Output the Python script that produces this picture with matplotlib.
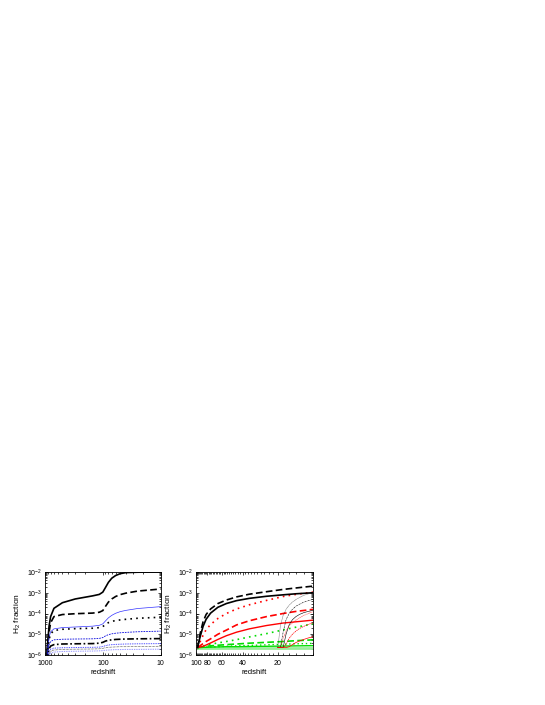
import numpy as np
import matplotlib
matplotlib.use('Agg')
from matplotlib import pyplot as plt
from matplotlib.ticker import FixedLocator, NullFormatter, LogLocator

plt.rcParams['font.family'] = ['Liberation Sans', 'DejaVu Sans']
plt.rcParams['mathtext.fontset'] = 'custom'
plt.rcParams['mathtext.rm'] = 'Liberation Sans'

# ---- left panel: z grid and log10(H2 fraction) for each curve
z_left = [950, 900, 850, 800, 700, 500, 300, 150, 115, 100, 90, 80, 70, 60, 50, 40, 25, 10]
L_black_solid = [-6.3, -5.4, -4.6, -4.15, -3.75, -3.48, -3.3, -3.15, -3.08, -2.97, -2.75, -2.5, -2.3, -2.17, -2.08, -2.03, -2.01, -2.0]
L_black_dash = [-6.3, -5.6, -4.9, -4.45, -4.15, -4.05, -4.01, -3.98, -3.94, -3.86, -3.66, -3.45, -3.3, -3.18, -3.09, -3.02, -2.92, -2.82]
L_blue_solid = [-6.3, -5.7, -5.15, -4.88, -4.74, -4.68, -4.65, -4.61, -4.57, -4.5, -4.36, -4.21, -4.09, -3.99, -3.91, -3.85, -3.76, -3.67]
L_black_dot = [-6.3, -5.8, -5.25, -4.98, -4.82, -4.76, -4.73, -4.71, -4.68, -4.63, -4.53, -4.44, -4.38, -4.34, -4.31, -4.28, -4.23, -4.18]
L_blue_dash = [-6.3, -5.9, -5.5, -5.35, -5.27, -5.24, -5.23, -5.22, -5.2, -5.16, -5.08, -5.02, -4.98, -4.95, -4.93, -4.91, -4.88, -4.85]
L_black_dashdot = [-6.3, -6.0, -5.7, -5.57, -5.5, -5.47, -5.46, -5.45, -5.43, -5.39, -5.33, -5.29, -5.27, -5.25, -5.24, -5.23, -5.22, -5.21]
L_blue_dot = [-6.3, -6.1, -5.85, -5.73, -5.67, -5.65, -5.64, -5.63, -5.62, -5.59, -5.55, -5.52, -5.5, -5.49, -5.48, -5.47, -5.46, -5.45]
L_black_thindot = [-6.3, -6.15, -5.95, -5.82, -5.76, -5.73, -5.72, -5.71, -5.7, -5.68, -5.65, -5.63, -5.62, -5.61, -5.6, -5.6, -5.59, -5.58]
L_lblue_dot = [-6.3, -6.2, -6.05, -5.92, -5.86, -5.83, -5.82, -5.81, -5.8, -5.79, -5.77, -5.76, -5.75, -5.74, -5.74, -5.73, -5.73, -5.72]

# ---- right panel
z_right = [97, 92, 87, 82, 75, 65, 55, 45, 35, 25, 18, 14, 10]
R_black_solid = [-5.64, -5.1, -4.62, -4.28, -3.98, -3.7, -3.52, -3.38, -3.27, -3.17, -3.1, -3.05, -3.0]
R_black_dash = [-5.64, -4.95, -4.4, -4.05, -3.78, -3.52, -3.35, -3.2, -3.07, -2.95, -2.84, -2.77, -2.68]
R_red_dot = [-5.64, -5.35, -5.05, -4.78, -4.53, -4.24, -4.0, -3.78, -3.58, -3.37, -3.18, -3.08, -2.97]
R_red_dash = [-5.64, -5.55, -5.45, -5.35, -5.22, -5.0, -4.8, -4.55, -4.35, -4.15, -4.0, -3.9, -3.8]
R_red_solid = [-5.64, -5.62, -5.58, -5.52, -5.42, -5.25, -5.07, -4.9, -4.74, -4.58, -4.46, -4.4, -4.32]
R_green_dot = [-5.64, -5.61, -5.57, -5.53, -5.48, -5.42, -5.35, -5.26, -5.13, -4.97, -4.79, -4.66, -4.5]
R_green_dash = [-5.64, -5.62, -5.6, -5.58, -5.56, -5.53, -5.5, -5.47, -5.43, -5.39, -5.35, -5.31, -5.27]
R_green_solid = [-5.64, -5.64, -5.63, -5.63, -5.62, -5.61, -5.6, -5.6, -5.59, -5.58, -5.57, -5.56, -5.55]
R_green_dot2 = [-5.64, -5.64, -5.63, -5.62, -5.61, -5.6, -5.58, -5.56, -5.54, -5.51, -5.48, -5.46, -5.44]
R_lgreen = [-5.68, -5.68, -5.68, -5.68, -5.68, -5.68, -5.68, -5.68, -5.68, -5.68, -5.68, -5.68, -5.68]

# late-starting thin curves
z_late = [20, 19, 18, 17, 16, 15, 14, 13, 12, 11, 10]
R_late_black_dot = [-5.64, -4.6, -4.1, -3.8, -3.6, -3.45, -3.33, -3.22, -3.13, -3.06, -3.0]
R_late_black_dashdot = [-5.64, -5.64, -4.9, -4.3, -4.0, -3.8, -3.65, -3.55, -3.45, -3.38, -3.32]
R_late_black_solid = [-5.64, -5.64, -5.64, -5.0, -4.55, -4.3, -4.15, -4.04, -3.96, -3.9, -3.85]
R_late_red_dot = [-5.64, -5.64, -5.2, -4.85, -4.6, -4.45, -4.32, -4.2, -4.1, -4.0, -3.92]
R_late_red_dash = [-5.64, -5.64, -5.64, -5.5, -5.2, -5.0, -4.85, -4.72, -4.62, -4.53, -4.45]
R_late_red_solid = [-5.64, -5.64, -5.64, -5.64, -5.6, -5.5, -5.4, -5.32, -5.25, -5.18, -5.12]

yticks = [1e-6, 1e-5, 1e-4, 1e-3, 1e-2]
ylabels = ['$10^{-6}$', '$10^{-5}$', '$10^{-4}$', '$10^{-3}$', '$10^{-2}$']
left_xticks = [1000, 100, 10]
right_xticks = [100, 80, 60, 40, 20]

FS = 5


def style(ax, xlim, xticks):
    ax.set_yscale('log')
    ax.set_xscale('log')
    ax.set_ylim(1e-6, 1e-2)
    ax.set_xlim(*xlim)
    ax.set_yticks(yticks)
    ax.set_yticklabels(ylabels)
    ax.yaxis.set_minor_locator(LogLocator(base=10, subs=np.arange(2, 10)))
    ax.yaxis.set_minor_formatter(NullFormatter())
    ax.xaxis.set_major_locator(FixedLocator(xticks))
    ax.set_xticklabels([str(t) for t in xticks])
    ax.xaxis.set_minor_formatter(NullFormatter())
    ax.tick_params(which='both', direction='in', top=True, right=True,
                   labelsize=FS, width=0.5, pad=2)
    ax.tick_params(axis='x', which='major', pad=3.5)
    ax.tick_params(which='major', length=2.5)
    ax.tick_params(which='minor', length=1.3)
    for s in ax.spines.values():
        s.set_linewidth(0.6)
    ax.set_ylabel('H$_2$ fraction', fontsize=6, labelpad=3)
    ax.set_xlabel('redshift', fontsize=5.5, labelpad=1.5)


fig = plt.figure(figsize=(5.45, 7.05), dpi=100)
ax1 = fig.add_axes([45 / 545, 1 - 655 / 705, 115.6 / 545, 83 / 705])
ax2 = fig.add_axes([196 / 545, 1 - 655 / 705, 117 / 545, 83 / 705])

p = lambda v: 10.0 ** np.array(v)

ax1.plot(z_left, p(L_black_solid), color='black', lw=1.2)
ax1.plot(z_left, p(L_black_dash), color='black', lw=1.2, dashes=(4, 2))
ax1.plot(z_left, p(L_blue_solid), color='#3333ff', lw=0.5)
ax1.plot(z_left, p(L_black_dot), color='black', lw=1.2, dashes=(1, 2.5))
ax1.plot(z_left, p(L_blue_dash), color='#0000dd', lw=0.6, dashes=(2, 1.2))
ax1.plot(z_left, p(L_black_dashdot), color='black', lw=1.2, dashes=(4, 1.5, 1, 1.5))
ax1.plot(z_left, p(L_blue_dot), color='#2222ff', lw=0.7, dashes=(0.8, 1))
ax1.plot(z_left, p(L_black_thindot), color='black', lw=0.5, dashes=(0.8, 1.2))
ax1.plot(z_left, p(L_lblue_dot), color='#7777ff', lw=0.7, dashes=(0.8, 1))
style(ax1, (1000, 10), left_xticks)
ax1.xaxis.set_minor_locator(LogLocator(base=10, subs=np.arange(2, 10)))

ax2.plot(z_right, p(R_lgreen), color='#99ee99', lw=2.0)
ax2.plot(z_right, p(R_green_solid), color='#00dd00', lw=1.0)
ax2.plot(z_right, p(R_green_dot2), color='#00dd00', lw=1.0, dashes=(1, 2))
ax2.plot(z_right, p(R_green_dash), color='#00dd00', lw=1.2, dashes=(4, 2))
ax2.plot(z_right, p(R_green_dot), color='#00dd00', lw=1.2, dashes=(1, 2.5))
ax2.plot(z_right, p(R_red_solid), color='red', lw=1.0)
ax2.plot(z_right, p(R_red_dash), color='red', lw=1.2, dashes=(4, 2))
ax2.plot(z_right, p(R_red_dot), color='red', lw=1.2, dashes=(1, 2.5))
ax2.plot(z_right, p(R_black_solid), color='black', lw=1.2)
ax2.plot(z_right, p(R_black_dash), color='black', lw=1.2, dashes=(4, 2))

ax2.plot(z_late, p(R_late_black_dot), color='black', lw=0.4, dashes=(0.8, 1))
ax2.plot(z_late, p(R_late_black_dashdot), color='black', lw=0.4, dashes=(3, 1, 0.8, 1))
ax2.plot(z_late, p(R_late_black_solid), color='black', lw=0.4)
ax2.plot(z_late, p(R_late_red_dot), color='red', lw=0.5, dashes=(0.8, 1))
ax2.plot(z_late, p(R_late_red_dash), color='red', lw=0.5, dashes=(2, 1))
ax2.plot(z_late, p(R_late_red_solid), color='red', lw=0.5)
style(ax2, (100, 10), right_xticks)
ax2.xaxis.set_minor_locator(FixedLocator(list(range(10, 101, 2))))

fig.savefig('out.png', dpi=100)
